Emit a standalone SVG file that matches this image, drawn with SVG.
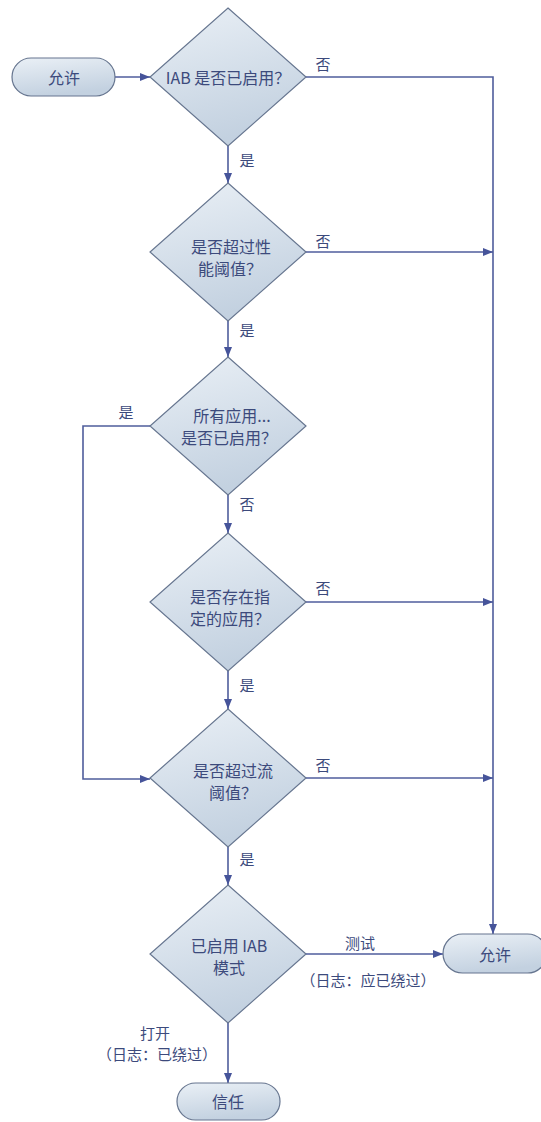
<svg xmlns="http://www.w3.org/2000/svg" width="541" height="1122" viewBox="0 0 541 1122">
<defs>
<linearGradient id="g" x1="0" y1="0" x2="0.3" y2="1">
<stop offset="0" stop-color="#eaf0f6"/>
<stop offset="1" stop-color="#c3d1e0"/>
</linearGradient>
<marker id="arr" viewBox="0 0 10 10" refX="10" refY="5" markerWidth="10" markerHeight="10" markerUnits="userSpaceOnUse" orient="auto">
<path d="M0,1 L10,5 L0,9 Z" fill="#46549a"/>
</marker>
</defs>
<style>
.n{fill:url(#g);stroke:#66758f;stroke-width:1.2}
.e{fill:none;stroke:#4f5d9c;stroke-width:1.6;marker-end:url(#arr)}
text{font-family:"Noto Sans CJK SC","Noto Sans",sans-serif;font-size:15px;fill:#3c4a7c;text-anchor:middle;dominant-baseline:central}
.t{font-size:16px}
</style>
<rect width="541" height="1122" fill="#ffffff"/>
<g id="connectors">
<path class="e" d="M115,77 H150"/>
<path class="e" d="M306,77 H493 V934"/>
<path class="e" d="M228,146 V183"/>
<path class="e" d="M306,252 H493"/>
<path class="e" d="M228,321 V357"/>
<path class="e" d="M150,426 H83 V779 H150"/>
<path class="e" d="M228,495 V533"/>
<path class="e" d="M306,602 H493"/>
<path class="e" d="M228,671 V709"/>
<path class="e" d="M306,778 H493"/>
<path class="e" d="M228,847 V885"/>
<path class="e" d="M306,954 H443"/>
<path class="e" d="M228,1023 V1083"/>
<text x="323" y="63">否</text>
<text x="247" y="159">是</text>
<text x="323" y="240">否</text>
<text x="247" y="329">是</text>
<text x="126" y="411">是</text>
<text x="247" y="503">否</text>
<text x="323" y="587">否</text>
<text x="247" y="684">是</text>
<text x="323" y="764">否</text>
<text x="247" y="858">是</text>
<text x="360" y="942">测试</text>
<text x="368" y="979">（日志：应已绕过）</text>
<text x="155" y="1032">打开</text>
<text x="157" y="1053">（日志：已绕过）</text>
</g>
<g id="start">
<rect class="n" x="12" y="58" width="103" height="38" rx="19"/>
<text class="t" x="64" y="77">允许</text>
</g>
<g id="d1">
<path class="n" d="M228,8 L306,77 L228,146 L150,77 Z"/>
<text class="t" x="228" y="77">IAB 是否已启用？</text>
</g>
<g id="d2">
<path class="n" d="M228,183 L306,252 L228,321 L150,252 Z"/>
<text class="t" x="231" y="246">是否超过性</text>
<text class="t" x="230" y="268">能阈值？</text>
</g>
<g id="d3">
<path class="n" d="M228,357 L306,426 L228,495 L150,426 Z"/>
<text class="t" x="232" y="415">所有应用...</text>
<text class="t" x="229" y="437">是否已启用？</text>
</g>
<g id="d4">
<path class="n" d="M228,533 L306,602 L228,671 L150,602 Z"/>
<text class="t" x="230" y="596">是否存在指</text>
<text class="t" x="230" y="618">定的应用？</text>
</g>
<g id="d5">
<path class="n" d="M228,709 L306,778 L228,847 L150,778 Z"/>
<text class="t" x="233" y="770">是否超过流</text>
<text class="t" x="233" y="792">阈值？</text>
</g>
<g id="d6">
<path class="n" d="M228,885 L306,954 L228,1023 L150,954 Z"/>
<text class="t" x="229" y="945">已启用 IAB</text>
<text class="t" x="229" y="967">模式</text>
</g>
<g id="allow">
<rect class="n" x="443" y="934" width="104" height="39" rx="19.5"/>
<text class="t" x="495" y="954">允许</text>
</g>
<g id="trust">
<rect class="n" x="177" y="1083" width="103" height="37" rx="18.5"/>
<text class="t" x="228" y="1101">信任</text>
</g>
</svg>
